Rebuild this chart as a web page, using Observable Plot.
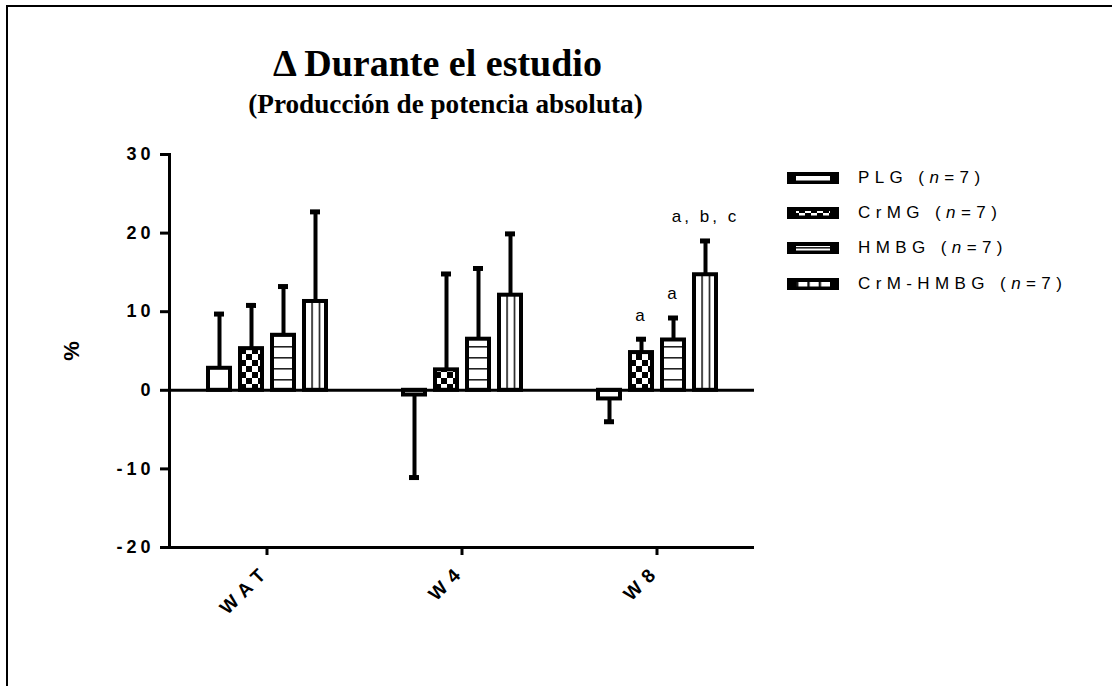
<!DOCTYPE html>
<html><head><meta charset="utf-8">
<script src="https://cdn.jsdelivr.net/npm/d3@7"></script>
<script src="https://cdn.jsdelivr.net/npm/@observablehq/plot@0.6"></script>
<style>
html,body{margin:0;padding:0;background:#fff;}
#wrap{position:relative;width:1112px;height:686px;overflow:hidden;font-family:Arial,"Liberation Sans",sans-serif;color:#000;}
#border{position:absolute;left:6px;top:5px;width:1120px;height:700px;border-left:2.5px solid #000;border-top:2.5px solid #000;}
.title{position:absolute;left:0;text-align:center;font-family:"Liberation Serif","Times New Roman",serif;font-weight:bold;color:#000;white-space:nowrap;}
#t1{top:44px;width:875px;font-size:38px;line-height:38px;}
#t2{top:91px;width:891px;font-size:27.2px;line-height:27px;}
#chart{position:absolute;left:0;top:0;}
#legend{position:absolute;left:787px;top:0;}
.lrow{position:absolute;left:0;height:12px;white-space:nowrap;}
.lrow svg{position:absolute;left:0;top:0;}
.lrow span{position:absolute;left:71px;top:-4px;font-size:17px;letter-spacing:5.4px;line-height:19px;font-family:"Liberation Sans",Arial,sans-serif;}
#chart g[aria-label="y-axis tick label"] text{letter-spacing:4px;font-size:18px !important;font-weight:bold !important;}
#chart g[aria-label="fx-axis tick label"] text{letter-spacing:7px;font-size:19px !important;font-weight:bold !important;}
#chart g[aria-label="y-axis label"] text{font-size:22px !important;font-weight:bold !important;}
#chart g[aria-label="text"] text{letter-spacing:3px;font-size:17px !important;}
</style>
</head><body>
<svg width="0" height="0" style="position:absolute">
<defs>
<pattern id="pChecker" patternUnits="userSpaceOnUse" width="12" height="12">
<rect width="12" height="12" fill="#fff"/>
<rect width="6" height="6" fill="#000"/>
<rect x="6" y="6" width="6" height="6" fill="#000"/>
</pattern>
<pattern id="pH" patternUnits="userSpaceOnUse" width="12" height="11">
<rect width="12" height="11" fill="#fff"/>
<rect y="5" width="12" height="1.6" fill="#222"/>
</pattern>
<pattern id="pV" patternUnits="objectBoundingBox" patternContentUnits="objectBoundingBox" width="0.3333" height="1">
<rect width="0.3333" height="1" fill="#fff"/>
<rect width="0.07" height="1" fill="#111"/>
</pattern>
</defs>
</svg>
<div id="wrap">
<div id="border"></div>
<div id="chart"></div>
<div class="title" id="t1">Δ Durante el estudio</div>
<div class="title" id="t2">(Producción de potencia absoluta)</div>
<div id="legend"></div>
</div>
<script>
// ---- data ----
const groups = ["WAT", "W4", "W8"];
const series = ["PLG", "CrMG", "HMBG", "CrM-HMBG"];
const nPerSeries = [7, 7, 7, 7];
const yTicks = [-20, -10, 0, 10, 20, 30];

const plgMean     = [2.8, -0.6, -1.1];
const crmgMean    = [5.3,  2.6,  4.8];
const hmbgMean    = [7.0,  6.5,  6.4];
const crmhmbgMean = [11.3, 12.1, 14.7];

const plgSD     = [6.9, 10.5, 2.9];
const crmgSD    = [5.5, 12.2, 1.7];
const hmbgSD    = [6.2,  9.0, 2.8];
const crmhmbgSD = [11.4, 7.8, 4.3];

const plgSig     = ["", "", ""];
const crmgSig    = ["", "", "a"];
const hmbgSig    = ["", "", "a"];
const crmhmbgSig = ["", "", "a, b, c"];

const fills = ["#fff", "url(#pChecker)", "url(#pH)", "url(#pV)"];

// ---- table ----
const means = [plgMean, crmgMean, hmbgMean, crmhmbgMean];
const sds = [plgSD, crmgSD, hmbgSD, crmhmbgSD];
const sigs = [plgSig, crmgSig, hmbgSig, crmhmbgSig];
const rows = [];
series.forEach((s, i) => groups.forEach((g, j) => {
  const v = means[i][j], sd = sds[i][j];
  rows.push({group: g, series: s, value: v, sd, end: v + Math.sign(v) * sd, letter: sigs[i][j]});
}));

const chart = Plot.plot({
  width: 1112, height: 686,
  marginLeft: 169, marginRight: 358, marginTop: 154, marginBottom: 139,
  style: {fontFamily: "Arial, 'Liberation Sans', sans-serif", fontSize: "17px", color: "#000", background: "transparent", overflow: "visible"},
  fx: {domain: groups, padding: 0, label: null},
  x: {domain: series, paddingInner: 0.32, paddingOuter: 1.18, axis: null},
  y: {domain: [-20, 30], label: "%"},
  color: {domain: series, range: fills},
  marks: [
    Plot.barY(rows, {fx: "group", x: "series", y: "value", fill: "series", stroke: "#000", strokeWidth: 4}),
    Plot.ruleX(rows, {fx: "group", x: "series", y1: "value", y2: "end", stroke: "#000", strokeWidth: 4}),
    Plot.tickY(rows, {fx: "group", x: "series", y: "end", stroke: "#000", strokeWidth: 5, insetLeft: 6, insetRight: 6}),
    Plot.text(rows.filter(d => d.letter), {fx: "group", x: "series", y: "end", text: "letter", dy: -24, fill: "#000", fontSize: 17}),
    Plot.ruleY([0], {stroke: "#000", strokeWidth: 3}),
    Plot.ruleY([-20], {stroke: "#000", strokeWidth: 3}),
    Plot.frame({anchor: "left", facet: "super", stroke: "#000", strokeWidth: 3}),
    Plot.axisY({ticks: yTicks, tickFormat: d => String(d), tickSize: 9, tickPadding: 6, strokeWidth: 3,
                fontSize: 18, fontWeight: "bold",
                label: "%", labelAnchor: "center", labelArrow: "none", labelOffset: 106}),
    Plot.axisFx({anchor: "bottom", tickSize: 8, tickPadding: 12, tickRotate: -45, strokeWidth: 3,
                 fontSize: 19, fontWeight: "bold", label: null})
  ]
});
document.getElementById("chart").appendChild(chart);

// ---- legend ----
const legend = document.getElementById("legend");
const rowTops = [172, 207, 242, 278];
series.forEach((s, i) => {
  const row = document.createElement("div");
  row.className = "lrow";
  row.style.top = rowTops[i] + "px";
  row.innerHTML = `<svg width="52" height="12"><rect width="52" height="12" fill="#000"/><rect x="9" y="4" width="34" height="4.5" fill="${fills[i]}"/></svg>` +
    `<span>${s} (<i>n</i>=${nPerSeries[i]})</span>`;
  legend.appendChild(row);
});
</script>
</body></html>
